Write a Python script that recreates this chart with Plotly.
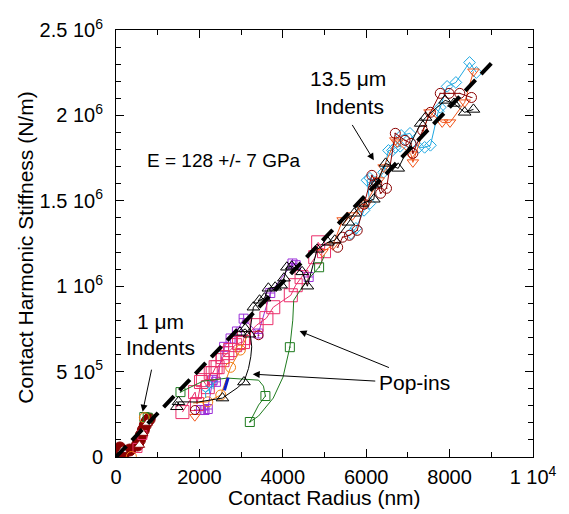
import plotly.graph_objects as go

# ---------------- data ----------------
# Contact radius (nm) and contact harmonic stiffness (N/m)

# Fitted modulus (GPa); stiffness line S = 2 E a
E_GPA = 128
fit_radius = [0, 9000]

# 13.5 um indents - black open triangles
blk_x = [2974, 3100, 3201, 3295, 3443, 3560, 3654, 3817, 3958, 4028,
         4098, 4216, 4464, 4590, 4825, 5082, 5246, 5574, 5714, 5901, 6183, 6230,
         6464, 6768, 7307, 7424, 7893, 8103, 8361, 8572]
blk_y = [7.3e5, 7.5e5, 7.19e5, 8.77e5, 9.18e5, 9.3e5, 9.88e5, 9.94e5,
         1.006e6, 1.047e6, 1.111e6, 1.117e6, 1.084e6, 1.0e6, 1.216e6, 1.257e6, 1.269e6,
         1.374e6, 1.427e6, 1.485e6, 1.509e6, 1.597e6, 1.719e6, 1.69e6, 1.953e6,
         1.988e6, 2.088e6, 2.07e6, 2.018e6, 2.035e6]

# black pop-in curve and its symbols
blk_pop_x = [1459, 1499, 1967, 2553, 2904, 3068, 3178, 3232, 3255, 3232, 3201]
blk_pop_y = [2.94e5, 3.23e5, 3.22e5, 3.45e5, 4.04e5, 4.39e5, 5.19e5, 5.87e5, 6.45e5,
             6.96e5, 7.23e5]
blk_pop_sym_x = [1459, 1499, 2553, 3068]
blk_pop_sym_y = [2.94e5, 3.23e5, 3.45e5, 4.39e5]

# pink open squares
pink_x = [1593, 1897, 1944, 2038, 2084, 2201, 2272, 2319, 2389, 2436, 2553, 2560, 2670,
          2740, 2857, 2951, 3045, 3068, 3372, 3607, 3771, 4192, 4309, 4450, 4778,
          4848, 4989]
pink_y = [2.63e5, 3.8e5, 3.1e5, 4.39e5, 4.5e5, 4.09e5, 4.91e5, 4.91e5, 5.26e5, 5.26e5,
          5.67e5, 5.85e5, 6.08e5, 6.26e5, 6.55e5, 6.67e5, 6.73e5, 6.96e5, 7.72e5,
          8.13e5, 8.77e5, 9.47e5, 1.006e6, 1.053e6, 1.17e6, 1.257e6, 1.205e6]

# purple squares with cross
purp_x = [2038, 2124, 2201, 2319, 2396, 2593, 2747, 2900, 3061, 3412, 3700, 4232, 4309, 4621]
purp_y = [2.75e5, 2.75e5, 2.81e5, 4.5e5, 4.4e5, 6.45e5, 6.94e5, 7.35e5, 8.1e5, 7.23e5,
          9.6e5, 1.133e6, 1.123e6, 1.054e6]

# green squares with dot: pop-in curve and symbols
grn_x = [1546, 2084, 2670, 3419, 3536, 3583, 3419, 3209, 3419, 3771, 4005, 4169, 4239,
         4262, 4544, 4871, 5000]
grn_y = [3.8e5, 4.44e5, 4.62e5, 4.5e5, 4.15e5, 3.57e5, 3.04e5, 2.05e5, 2.4e5, 3.45e5,
         4.68e5, 6.43e5, 8.01e5, 9.18e5, 1.023e6, 1.111e6, 1.18e6]
grn_sym_x = [1546, 3583, 3209, 4169, 4871]
grn_sym_y = [3.8e5, 3.57e5, 2.05e5, 6.43e5, 1.111e6]

# orange open circles
org_x = [1850, 2201, 2513, 2620, 2747, 2981, 3150]
org_y = [3.16e5, 3.23e5, 3.63e5, 4.4e5, 5.25e5, 6.26e5, 7.1e5]
org_sym_x = [2201, 2513, 2747, 2981]
org_sym_y = [3.23e5, 3.63e5, 5.25e5, 6.26e5]

# blue segment
blue_x = [2600, 2640, 2690]
blue_y = [3.9e5, 4.2e5, 4.65e5]

# cyan open diamonds
cyan_lo_x = [2150, 2241, 2330]
cyan_lo_y = [3.8e5, 4.02e5, 4.3e5]
cyan_x = [5636, 5754, 5949, 6089, 6019, 6089, 6230, 6417, 6534, 6628, 6698, 6815, 6839,
          7050, 7260, 7401, 7541, 7729, 7776, 7940, 8150, 8478, 8642]
cyan_y = [1.308e6, 1.339e6, 1.444e6, 1.485e6, 1.62e6, 1.632e6, 1.608e6, 1.667e6,
          1.795e6, 1.795e6, 1.813e6, 1.819e6, 1.883e6, 1.895e6, 1.813e6, 1.813e6,
          1.825e6, 2.023e6, 2.047e6, 2.17e6, 2.193e6, 2.31e6, 2.251e6]

# red-orange open down-triangles
rorg_x = [4950, 5199, 5434, 5668, 5878, 5996, 6300, 6417, 6698, 6745, 7073, 7120, 7518,
          7822, 8010, 8361, 8572]
rorg_y = [1.2e6, 1.24e6, 1.386e6, 1.415e6, 1.462e6, 1.485e6, 1.62e6, 1.696e6, 1.854e6,
          1.842e6, 1.772e6, 1.725e6, 2.018e6, 1.959e6, 1.959e6, 2.076e6, 2.257e6]
rorg_lo_x = [1890]
rorg_lo_y = [2.36e5]

# dark red open circles with dot
mar_x = [5316, 5434, 5597, 5785, 5949, 6136, 6253, 6347, 6487, 6698, 6932, 7073, 7120,
         7354, 7541, 7776, 7986, 8244, 8525]
mar_y = [1.228e6, 1.287e6, 1.298e6, 1.327e6, 1.48e6, 1.649e6, 1.602e6, 1.544e6,
         1.573e6, 1.895e6, 1.854e6, 1.836e6, 1.778e6, 1.912e6, 2.018e6, 2.129e6,
         2.129e6, 2.129e6, 2.105e6]
mar_lo_x = [1893, 3419]
mar_lo_y = [2.75e5, 7.13e5]

# 1 um indents
sm_mar_x = [23, 94, 211, 328, 515, 562, 609, 656, 703, 749, 796]
sm_mar_y = [2.9e4, 5.3e4, 2.9e4, 4.1e4, 7.0e4, 9.9e4, 1.29e5, 1.58e5, 1.87e5, 2.1e5, 2.22e5]
sm_tri_x = [150, 562, 640, 749]
sm_tri_y = [4.0e4, 7.0e4, 1.4e5, 1.99e5]
sm_purp_x = [20, 60]
sm_purp_y = [2.6e4, 4.2e4]
sm_pink_x = [515, 632]
sm_pink_y = [5.3e4, 1.29e5]
sm_org_x = [368, 680]
sm_org_y = [3.0e3, 2.3e5]
sm_grn_x = [679, 760]
sm_grn_y = [2.34e5, 2.3e5]

# axis ticks
x_tickvals = [0, 2000, 4000, 6000, 8000, 10000]
x_ticktext = ["0", "2000", "4000", "6000", "8000", "1 10<sup>4</sup>"]
y_tickvals = [0, 5e5, 1e6, 1.5e6, 2e6, 2.5e6]
y_ticktext = ["0", "5 10<sup>5</sup>", "1 10<sup>6</sup>", "1.5 10<sup>6</sup>",
              "2 10<sup>6</sup>", "2.5 10<sup>6</sup>"]

# ---------------- styles ----------------
FONT = "Liberation Sans, Arial, sans-serif"
C_BLK = "#000000"
C_PINK = "#EB2F6B"
C_PURP = "#9B30D9"
C_GRN = "#1E7B1E"
C_ORG = "#F07D10"
C_BLUE = "#1020C8"
C_CYAN = "#1EA7E1"
C_RORG = "#F2561B"
C_MAR = "#8B0000"

fig = go.Figure()


def series(x, y, color, symbol, size, mode="lines+markers", fill=None, lw=1):
    fig.add_trace(go.Scatter(
        x=x, y=y, mode=mode,
        line=dict(color=color, width=lw),
        marker=dict(symbol=symbol, size=size,
                    color=fill if fill else color,
                    line=dict(color=color, width=1)),
        showlegend=False, hoverinfo="skip"))


# 13.5 um indents
series(purp_x, purp_y, C_PURP, "square-cross-open", 9)
series(pink_x, pink_y, C_PINK, "square-open", 13)
series(grn_x, grn_y, C_GRN, None, 0, mode="lines")
series(grn_sym_x, grn_sym_y, C_GRN, "square-open-dot", 9, mode="markers")
series(org_x, org_y, C_ORG, None, 0, mode="lines")
series(org_sym_x, org_sym_y, C_ORG, "circle-open", 10, mode="markers")
series(blue_x, blue_y, C_BLUE, None, 0, mode="lines", lw=3)
series(cyan_lo_x, cyan_lo_y, C_CYAN, "y-down-open", 7)
series(cyan_x, cyan_y, C_CYAN, "diamond-open", 9)
series(rorg_x, rorg_y, C_RORG, "triangle-down-open", 10)
series(rorg_lo_x, rorg_lo_y, C_RORG, "triangle-down-open", 9, mode="markers")
series(mar_x, mar_y, C_MAR, "circle-open-dot", 10)
series(mar_lo_x, mar_lo_y, C_MAR, "circle-open-dot", 9, mode="markers")
series(blk_pop_x, blk_pop_y, C_BLK, None, 0, mode="lines")
series(blk_pop_sym_x, blk_pop_sym_y, C_BLK, "triangle-up-open", 11, mode="markers")
series(blk_x, blk_y, C_BLK, "triangle-up-open", 11)

# 1 um indents
series(sm_purp_x, sm_purp_y, C_PURP, "circle", 11, mode="markers")
series(sm_mar_x, sm_mar_y, C_MAR, "circle", 12)
series(sm_grn_x, sm_grn_y, C_GRN, "square-open", 9, mode="markers")
series(sm_pink_x, sm_pink_y, C_PINK, "square-open", 9, mode="markers")
series(sm_org_x, sm_org_y, C_ORG, "circle-open", 10, mode="markers")
fig.add_trace(go.Scatter(
    x=sm_tri_x, y=sm_tri_y, mode="markers",
    marker=dict(symbol="triangle-up", size=9, color="white",
                line=dict(color=C_MAR, width=1)),
    showlegend=False, hoverinfo="skip"))

# fit line, S = 2 E a  (E in GPa, a in nm -> N/m)
fit_stiff = [2 * E_GPA * a for a in fit_radius]
fig.add_trace(go.Scatter(
    x=fit_radius, y=fit_stiff, mode="lines",
    line=dict(color="black", width=4, dash="15px,8px"),
    showlegend=False, hoverinfo="skip"))

# ---------------- annotations ----------------
TXT_SIZE = 21
txt = dict(showarrow=False, font=dict(family=FONT, size=TXT_SIZE, color="black"),
           xref="x", yref="y", xanchor="center", yanchor="middle")
ann = [
    dict(x=5574, y=2.216e6, text="13.5 μm", **txt),
    dict(x=5597, y=2.05e6, text="Indents", **txt),
    dict(x=2600, y=1.737e6, text="E = 128 +/- 7 GPa",
         **{**txt, "font": dict(family=FONT, size=19, color="black")}),
    dict(x=1077, y=7.95e5, text="1 μm", **txt),
    dict(x=1077, y=6.43e5, text="Indents", **txt),
    dict(x=7167, y=4.39e5, text="Pop-ins", **txt),
]
arrow = dict(text="", showarrow=True, arrowhead=2, arrowsize=1.4, arrowwidth=1,
             arrowcolor="black", xref="x", yref="y", axref="x", ayref="y")
ann += [
    dict(x=6183, y=1.737e6, ax=5644, ay=1.953e6, **arrow),
    dict(x=639, y=2.65e5, ax=860, ay=5.2e5, **arrow),
    dict(x=4403, y=7.37e5, ax=6581, ay=5.2e5, **arrow),
    dict(x=3279, y=4.85e5, ax=6253, ay=4.44e5, **arrow),
]
# axis titles
ann += [
    dict(x=0.501, y=-0.094, xref="paper", yref="paper", showarrow=False,
         xanchor="center", yanchor="middle",
         text="Contact Radius (nm)", font=dict(family=FONT, size=TXT_SIZE, color="black")),
    dict(x=-0.216, y=0.49, xref="paper", yref="paper", showarrow=False, textangle=-90,
         xanchor="center", yanchor="middle",
         text="Contact Harmonic Stiffness (N/m)",
         font=dict(family=FONT, size=TXT_SIZE, color="black")),
]

axis_common = dict(
    showgrid=False, zeroline=False, showline=True, linecolor="black", linewidth=1,
    mirror="ticks", ticks="inside", ticklen=8, tickwidth=1, tickcolor="black",
    tickfont=dict(family=FONT, size=20, color="black"),
)

fig.update_layout(
    width=569, height=514,
    margin=dict(l=116, r=26, t=30, b=57),
    paper_bgcolor="white", plot_bgcolor="white",
    annotations=ann,
    xaxis=dict(range=[0, 10000], tickmode="array", tickvals=x_tickvals,
               ticktext=x_ticktext, ticklabelstandoff=2,
               minor=dict(dtick=1000, tick0=0, ticks="inside", ticklen=5,
                          tickcolor="black", tickwidth=1),
               **axis_common),
    yaxis=dict(range=[0, 2.5e6], tickmode="array", tickvals=y_tickvals,
               ticktext=y_ticktext, ticklabelstandoff=8,
               minor=dict(dtick=1e5, tick0=0, ticks="inside", ticklen=5,
                          tickcolor="black", tickwidth=1),
               **axis_common),
)

fig.write_html("out.html")
